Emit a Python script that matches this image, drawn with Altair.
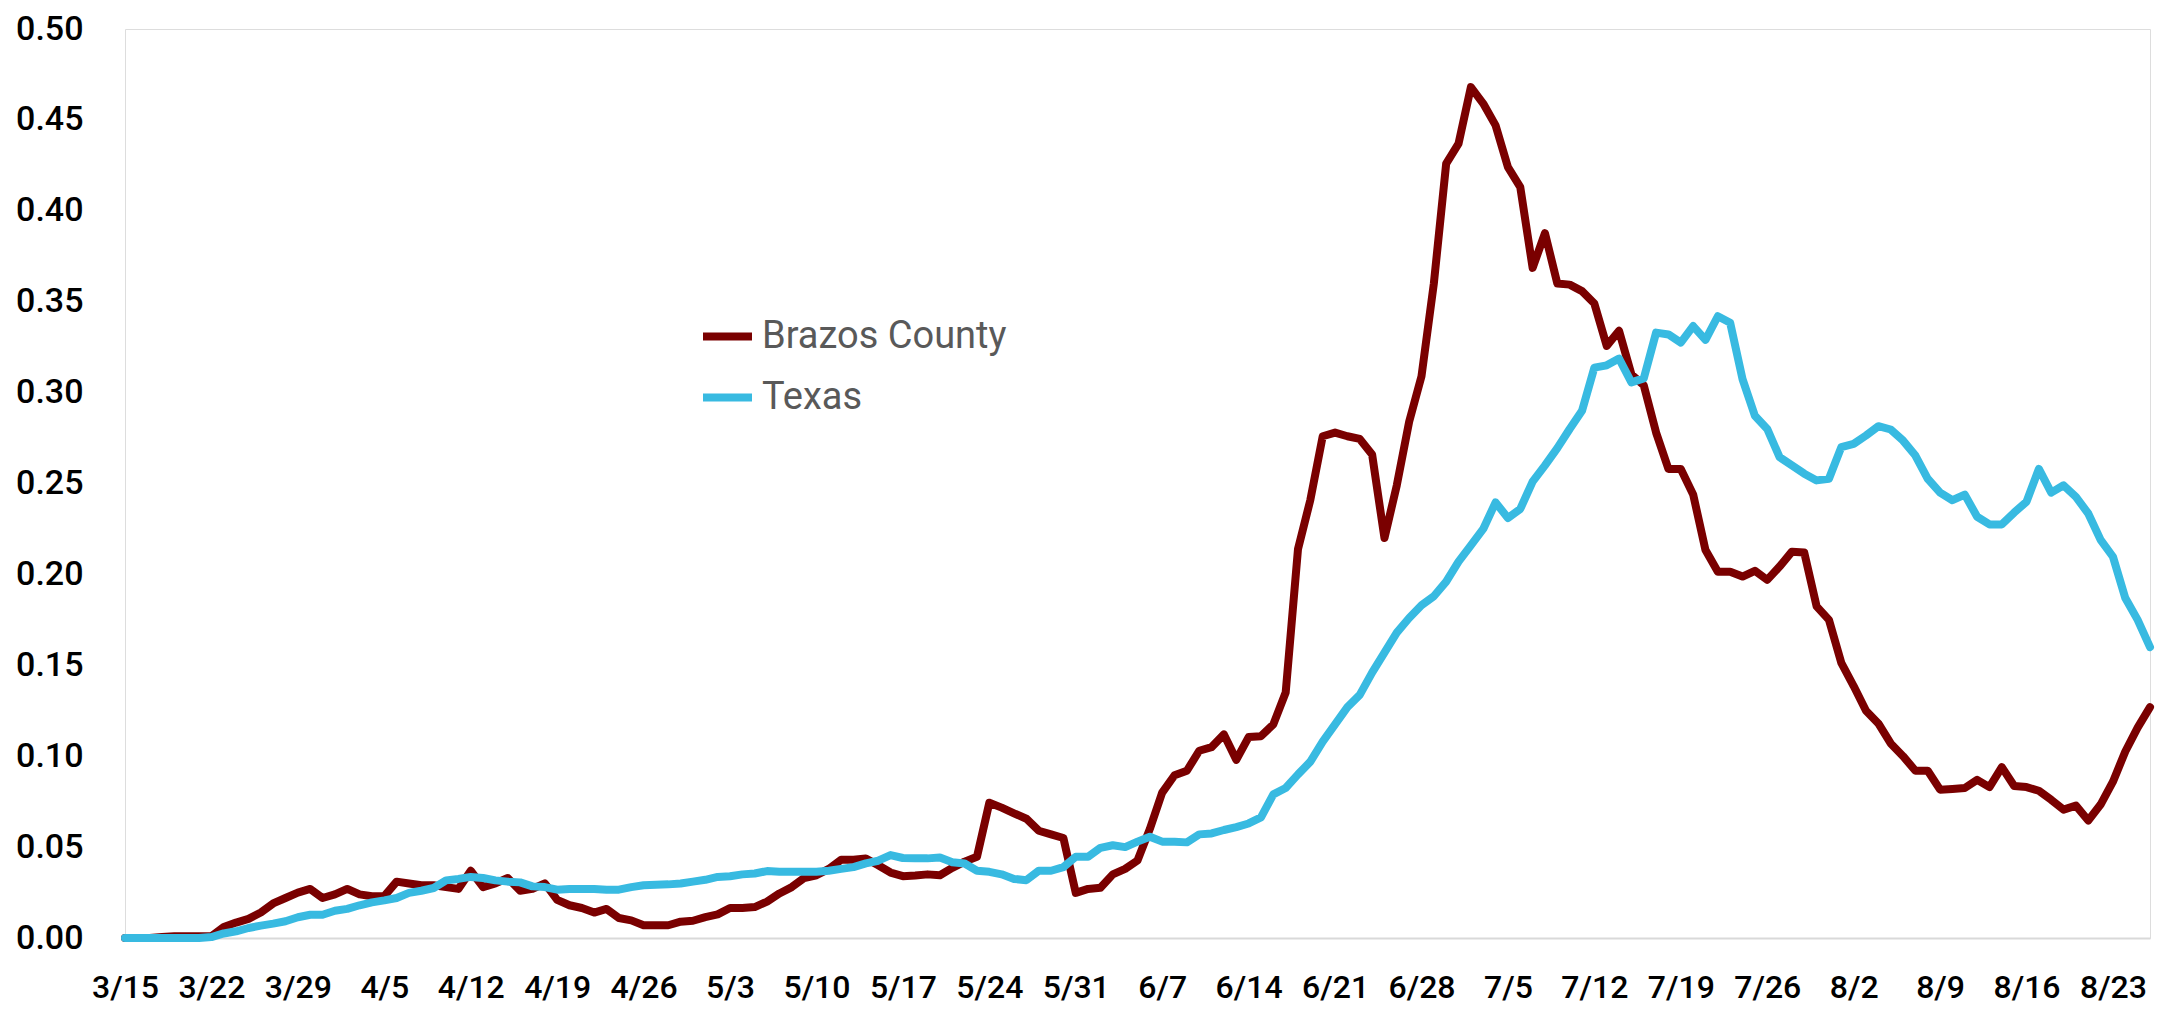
import altair as alt
import pandas as pd

start_date = "2020-03-15"
n_days = 165
series_names = ["Brazos County", "Texas"]
series_colors = ["#7A0000", "#38BAE1"]

brazos = [
    0.000, 0.000, 0.000, 0.0005, 0.001, 0.001, 0.001, 0.001, 0.006, 0.0085,
    0.0105, 0.014, 0.019, 0.022, 0.025, 0.027, 0.022, 0.024, 0.027, 0.024,
    0.023, 0.023, 0.031, 0.030, 0.029, 0.029, 0.028, 0.027, 0.037, 0.028,
    0.030, 0.033, 0.026, 0.027, 0.030, 0.021, 0.018, 0.0165, 0.014, 0.016,
    0.011, 0.0097, 0.007, 0.007, 0.007, 0.009, 0.0095, 0.0115, 0.013, 0.0165,
    0.0165, 0.017, 0.020, 0.0245, 0.028, 0.033, 0.0345, 0.038, 0.043, 0.043,
    0.0437, 0.040, 0.036, 0.034, 0.0344, 0.035, 0.0345, 0.0386, 0.042, 0.0447,
    0.0744, 0.0717, 0.0686, 0.0656, 0.059, 0.057, 0.055, 0.0248, 0.027, 0.0276,
    0.035, 0.038, 0.0426, 0.060, 0.080, 0.0895, 0.092, 0.103, 0.105, 0.112,
    0.098, 0.1105, 0.111, 0.1175, 0.135, 0.214, 0.241, 0.276, 0.278, 0.276,
    0.2745, 0.266, 0.220, 0.249, 0.284, 0.309, 0.360, 0.426, 0.437, 0.468,
    0.459, 0.447, 0.424, 0.413, 0.3686, 0.3877, 0.360, 0.3594, 0.3558, 0.349,
    0.3257, 0.334, 0.310, 0.304, 0.278, 0.258, 0.258, 0.244, 0.2134, 0.2015,
    0.2015, 0.1988, 0.202, 0.197, 0.2043, 0.2125, 0.212, 0.1824, 0.175, 0.1513,
    0.1386, 0.125, 0.118, 0.107, 0.100, 0.092, 0.092, 0.0816, 0.082, 0.0825,
    0.087, 0.083, 0.094, 0.0836, 0.083, 0.081, 0.076, 0.0706, 0.0728, 0.0646,
    0.0734, 0.086, 0.1026, 0.1157, 0.127,
]

texas = [
    0.000, 0.000, 0.000, 0.000, 0.000, 0.000, 0.000, 0.0005, 0.0025, 0.0037,
    0.0055, 0.0068, 0.0079, 0.0092, 0.0114, 0.0128, 0.0128, 0.015, 0.016, 0.018,
    0.0196, 0.0207, 0.022, 0.0248, 0.026, 0.0275, 0.0317, 0.0325, 0.0336, 0.033,
    0.0317, 0.031, 0.0306, 0.0284, 0.028, 0.0266, 0.027, 0.027, 0.027, 0.0266,
    0.0266, 0.028, 0.029, 0.0293, 0.0295, 0.030, 0.031, 0.032, 0.0336, 0.034,
    0.035, 0.0355, 0.0368, 0.0365, 0.0365, 0.0365, 0.0365, 0.037, 0.038, 0.039,
    0.041, 0.0425, 0.0456, 0.044, 0.0438, 0.0438, 0.0443, 0.0417, 0.041, 0.037,
    0.0364, 0.035, 0.0325, 0.0318, 0.037, 0.037, 0.039, 0.0447, 0.0447, 0.0496,
    0.051, 0.050, 0.053, 0.0557, 0.053, 0.053, 0.0526, 0.057, 0.0575, 0.0594,
    0.061, 0.063, 0.0663, 0.079, 0.0825, 0.090, 0.097, 0.108, 0.1175, 0.127,
    0.1337, 0.146, 0.157, 0.168, 0.176, 0.183, 0.188, 0.196, 0.207, 0.216,
    0.225, 0.2396, 0.231, 0.236, 0.251, 0.260, 0.2695, 0.280, 0.290, 0.3137,
    0.315, 0.3187, 0.3056, 0.3078, 0.333, 0.332, 0.3275, 0.3366, 0.329, 0.342,
    0.3384, 0.3074, 0.2873, 0.280, 0.2645, 0.260, 0.2554, 0.2517, 0.2526, 0.270,
    0.2718, 0.2764, 0.2815, 0.2797, 0.2736, 0.2654, 0.2526, 0.245, 0.2408, 0.2439,
    0.2317, 0.2275, 0.2275, 0.234, 0.240, 0.258, 0.245, 0.249, 0.2426, 0.2335,
    0.219, 0.2097, 0.187, 0.175, 0.160,
]

y_ticks = [0.0, 0.05, 0.10, 0.15, 0.20, 0.25, 0.30, 0.35, 0.40, 0.45, 0.50]
x_tick_labels = ["3/15", "3/22", "3/29", "4/5", "4/12", "4/19", "4/26", "5/3",
                 "5/10", "5/17", "5/24", "5/31", "6/7", "6/14", "6/21", "6/28",
                 "7/5", "7/12", "7/19", "7/26", "8/2", "8/9", "8/16", "8/23"]

dates = pd.date_range(start_date, periods=n_days, freq="D")
df = pd.concat([
    pd.DataFrame({"date": dates, "series": series_names[0], "value": brazos, "order": 0}),
    pd.DataFrame({"date": dates, "series": series_names[1], "value": texas, "order": 1}),
])


def dt(label):
    m, d = label.split("/")
    return alt.DateTime(year=2020, month=int(m), date=int(d))


x_values = [dt(l) for l in x_tick_labels]
x_domain = [dt("3/15"), dt("8/26")]

FONT = "Roboto"

chart = alt.Chart(df).mark_line(
    strokeWidth=8, strokeJoin="round", strokeCap="round"
).encode(
    x=alt.X(
        "date:T",
        scale=alt.Scale(domain=x_domain, nice=False),
        axis=alt.Axis(
            values=x_values, format="%-m/%-d", title=None, grid=False,
            domain=True, domainColor="#D9D9D9", domainWidth=2,
            ticks=False, tickSize=0, labelPadding=34, labelFontSize=32,
            labelFont=FONT, labelFontWeight=500, labelColor="#000000",
            labelAngle=0, labelOverlap=False, labelFlush=False,
        ),
    ),
    y=alt.Y(
        "value:Q",
        scale=alt.Scale(domain=[0, 0.5], nice=False),
        axis=alt.Axis(
            values=y_ticks, format=".2f", title=None, grid=False,
            domain=False, ticks=False, tickSize=0, labelPadding=42,
            labelFontSize=34, labelFont=FONT, labelFontWeight=500,
            labelColor="#000000",
        ),
    ),
    color=alt.Color(
        "series:N",
        scale=alt.Scale(domain=series_names, range=series_colors),
        legend=alt.Legend(
            title=None, orient="none", legendX=574, legendY=279,
            symbolType="stroke", symbolSize=2401, symbolStrokeWidth=8,
            labelFont=FONT, labelFontSize=38, labelColor="#595959",
            labelOffset=6, rowPadding=13, padding=0, labelLimit=0,
        ),
    ),
    order=alt.Order("order:Q"),
    detail="series:N",
).properties(
    width=2025,
    height=909,
    autosize=alt.AutoSizeParams(type="none"),
    padding={"left": 117, "top": 21, "right": 8, "bottom": 66},
).configure_view(stroke=None).configure(background="white")

chart.save("out.html", embed_options={"renderer": "svg", "actions": False})
